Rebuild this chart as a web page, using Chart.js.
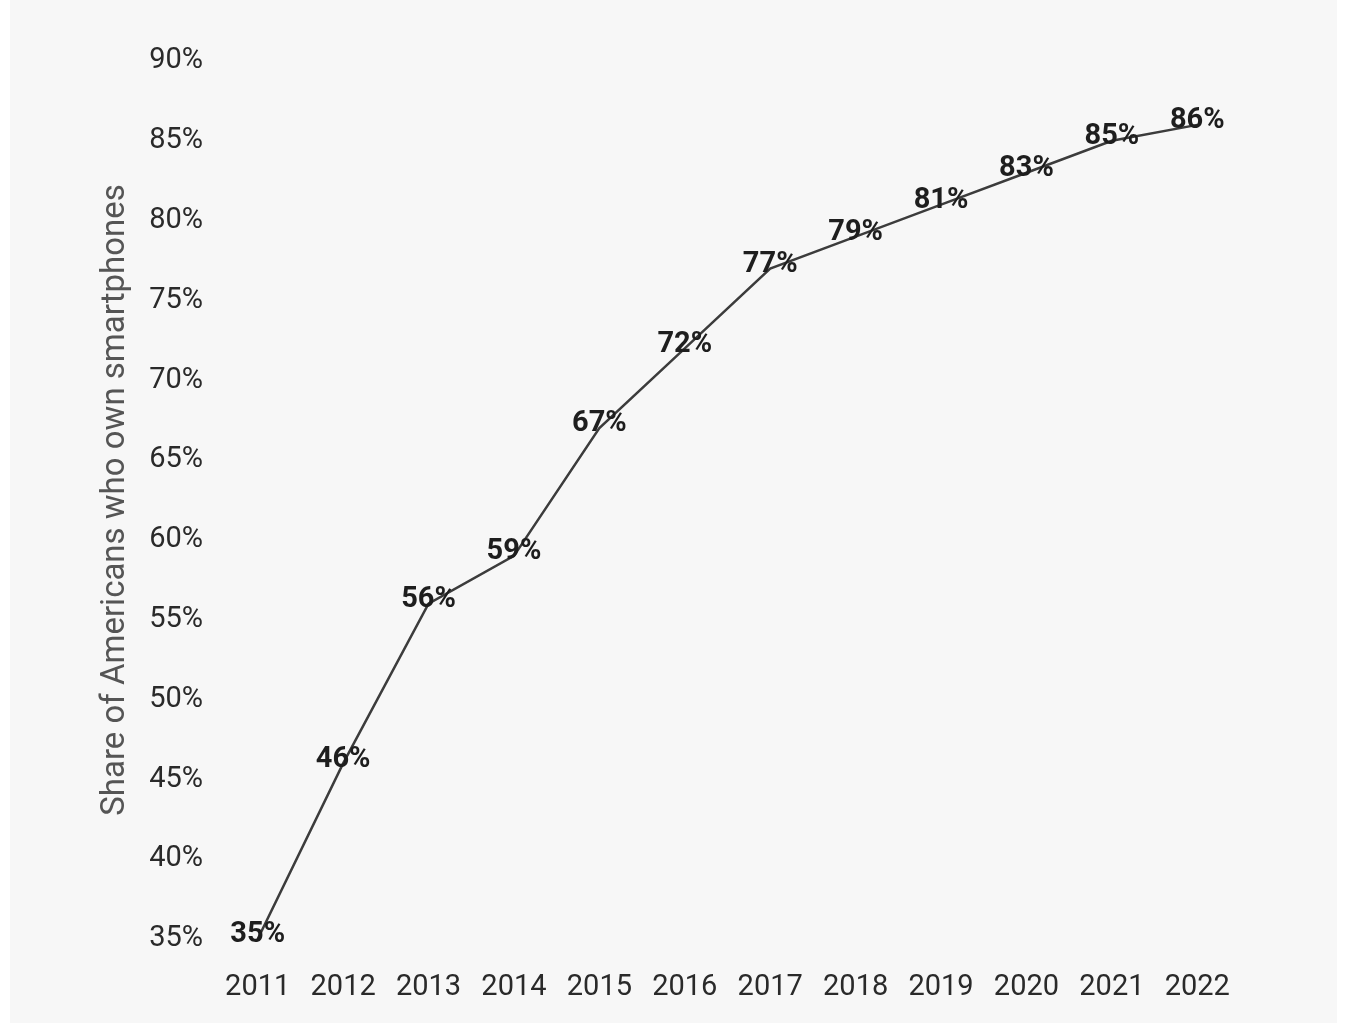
<!DOCTYPE html>
<html>
<head>
<meta charset="utf-8">
<script src="https://cdn.jsdelivr.net/npm/chart.js@4"></script>
<style>
  html, body { margin: 0; padding: 0; background: #ffffff; }
  #wrap { position: absolute; left: 10px; top: 0; width: 1327px; height: 1023px; background: #f7f7f7; }
</style>
</head>
<body>
<div id="wrap"><canvas id="chartPhones"></canvas></div>
<script>
// ── Data ──
const years  = ['2011','2012','2013','2014','2015','2016','2017','2018','2019','2020','2021','2022'];
const shares = [35, 46, 56, 59, 67, 72, 77, 79, 81, 83, 85, 86];
const yTicks = [35, 40, 45, 50, 55, 60, 65, 70, 75, 80, 85, 90];

// Etiquetas de valor sobre cada punto
const pointLabels = {
  id: 'pointLabels',
  afterDatasetsDraw(chart) {
    const { ctx } = chart;
    const meta = chart.getDatasetMeta(0);
    ctx.save();
    ctx.font = 'bold 29px Roboto';
    ctx.fillStyle = '#1e1e1e';
    ctx.textAlign = 'center';
    ctx.textBaseline = 'middle';
    meta.data.forEach((pt, i) => {
      ctx.fillText(shares[i] + '%', pt.x, pt.y - 4);
    });
    ctx.restore();
  }
};

new Chart(document.getElementById('chartPhones'), {
  type: 'line',
  data: {
    labels: years,
    datasets: [{
      data: shares,
      borderColor: '#3c3c3c',
      borderWidth: 2.5,
      pointRadius: 0,
      tension: 0
    }]
  },
  options: {
    responsive: true, maintainAspectRatio: false, animation: false,
    layout: { padding: { top: 61, right: 97, bottom: 0, left: 0 } },
    plugins: { legend: { display: false }, tooltip: { enabled: false } },
    scales: {
      x: {
        offset: true,
        afterFit: s => { s.height = 84; },
        grid: { display: false, drawTicks: false }, border: { display: false },
        ticks: { color: '#2a2a2a', padding: 31, maxRotation: 0, font: { family: 'Roboto', size: 29 } }
      },
      y: {
        min: 35, max: 90,
        afterBuildTicks: s => { s.ticks = yTicks.map(v => ({ value: v })); },
        afterFit: s => { s.width = 205; },
        grid: { display: false, drawTicks: false }, border: { display: false },
        title: { display: true, text: 'Share of Americans who own smartphones', color: '#555', padding: { top: 86, bottom: 0 }, font: { family: 'Roboto', size: 33 } },
        ticks: { color: '#2a2a2a', padding: 12, font: { family: 'Roboto', size: 29 }, callback: v => v + '%' }
      }
    }
  },
  plugins: [pointLabels]
});
</script>
</body>
</html>
